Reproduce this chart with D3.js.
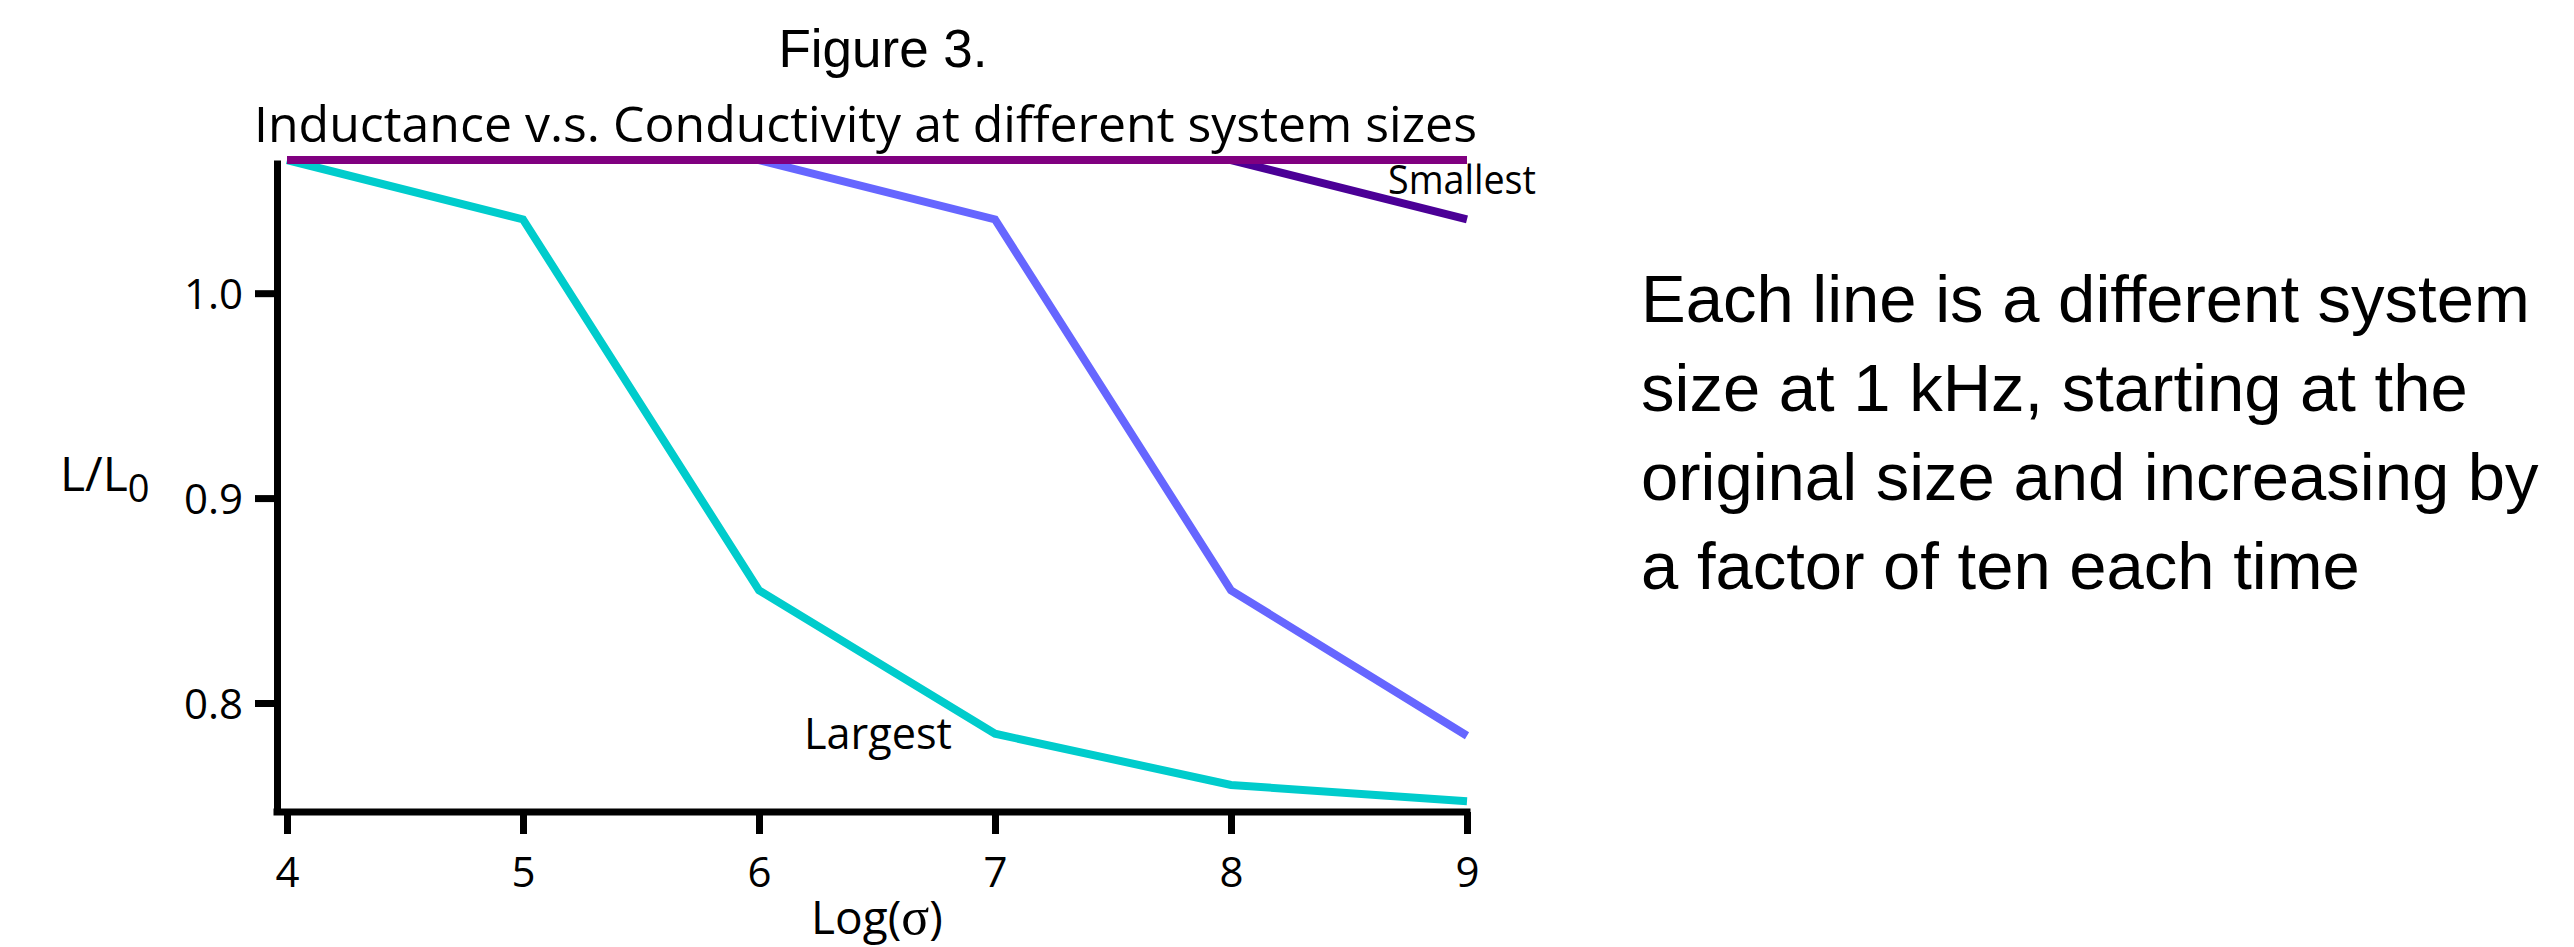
<!DOCTYPE html>
<html>
<head>
<meta charset="utf-8">
<script src="https://cdn.jsdelivr.net/npm/d3@7"></script>
<style>
  body { margin: 0; background: #ffffff; }
  svg { display: block; }
</style>
</head>
<body>
<svg id="chart" width="2574" height="947"></svg>
<script>
// Log of conductivity on the x axis
const logSigma = [4, 5, 6, 7, 8, 9];

// L/L0 for each system size (original size, then x10, x100, x1000)
const ratioX1    = [1.065, 1.065, 1.065, 1.065, 1.065, 1.065];
const ratioX10   = [1.065, 1.065, 1.065, 1.065, 1.065, 1.036];
const ratioX100  = [1.065, 1.065, 1.065, 1.036, 0.855, 0.784];
const ratioX1000 = [1.065, 1.036, 0.855, 0.785, 0.760, 0.752];

const seriesNames  = ["x1000", "x100", "x10", "x1"];
const seriesValues = [ratioX1000, ratioX100, ratioX10, ratioX1];
const seriesColors = ["#00cccc", "#6666ff", "#4b0096", "#800080"];

const xTicks = [4, 5, 6, 7, 8, 9];
const yTicks = [0.8, 0.9, 1.0];

const figureLabel = "Figure 3.";
const titleText = "Inductance v.s. Conductivity at different system sizes";
const noteLines = [
  "Each line is a different system",
  "size at 1 kHz, starting at the",
  "original size and increasing by",
  "a factor of ten each time"
];

const lucidaLike = "'Open Sans', 'DejaVu Sans', sans-serif";
const arialLike = "'Liberation Sans', Arial, sans-serif";

const svg = d3.select("#chart");

const axisX = 277;      // position of the vertical axis
const axisY = 812;      // position of the horizontal axis

const x = d3.scaleLinear().domain([4, 9]).range([287, 1467]);
const y = d3.scaleLinear().domain([0.7468, 1.065]).range([axisY, 160]);

// ---- axes ----
const yAxis = svg.append("g")
  .attr("transform", `translate(${axisX},0)`)
  .call(d3.axisLeft(y)
    .tickValues(yTicks)
    .tickSize(22)
    .tickSizeOuter(0)
    .tickPadding(12)
    .tickFormat(d3.format(".1f")));
yAxis.select(".domain").attr("stroke", "#000").attr("stroke-width", 7);
yAxis.selectAll(".tick line").attr("stroke", "#000").attr("stroke-width", 7);
yAxis.selectAll(".tick text")
  .attr("fill", "#000")
  .attr("dy", "0.36em")
  .style("font-family", lucidaLike)
  .style("font-size", "42px");

const xAxis = svg.append("g")
  .attr("transform", `translate(0,${axisY})`)
  .call(d3.axisBottom(x)
    .tickValues(xTicks)
    .tickSize(22)
    .tickSizeOuter(0)
    .tickPadding(23)
    .tickFormat(d3.format("d")));
xAxis.select(".domain").remove();
xAxis.append("line")
  .attr("x1", axisX - 3.5)
  .attr("x2", x(9) + 3.5)
  .attr("y1", 0).attr("y2", 0)
  .attr("stroke", "#000")
  .attr("stroke-width", 7);
xAxis.selectAll(".tick line").attr("stroke", "#000").attr("stroke-width", 7);
xAxis.selectAll(".tick text")
  .attr("fill", "#000")
  .style("font-family", lucidaLike)
  .style("font-size", "42px");

// ---- series lines ----
const line = d3.line()
  .x((d, i) => x(logSigma[i]))
  .y(d => y(d));

svg.append("g")
  .selectAll("path")
  .data(seriesValues)
  .join("path")
  .attr("class", (d, i) => "series " + seriesNames[i])
  .attr("d", line)
  .attr("fill", "none")
  .attr("stroke", (d, i) => seriesColors[i])
  .attr("stroke-width", 8)
  .attr("stroke-linejoin", "miter");

// ---- line annotations ----
svg.append("text")
  .attr("x", x(9) + 69)
  .attr("y", y(ratioX10[5]) - 25)
  .attr("text-anchor", "end")
  .attr("textLength", 148)
  .attr("lengthAdjust", "spacingAndGlyphs")
  .style("font-family", lucidaLike)
  .style("font-size", "40px")
  .attr("fill", "#000")
  .text("Smallest");

svg.append("text")
  .attr("x", x(7) - 191)
  .attr("y", y(ratioX1000[3]) + 15)
  .attr("textLength", 148)
  .attr("lengthAdjust", "spacingAndGlyphs")
  .style("font-family", lucidaLike)
  .style("font-size", "44px")
  .attr("fill", "#000")
  .text("Largest");

// ---- axis titles ----
const yTitle = svg.append("text")
  .attr("x", 60)
  .attr("y", 491)
  .style("font-family", lucidaLike)
  .style("font-size", "48px")
  .attr("fill", "#000");
yTitle.append("tspan").text("L/L");
yTitle.append("tspan").attr("dy", 11).style("font-size", "38px").text("0");

const xTitle = svg.append("text")
  .attr("x", (x(4) + x(9)) / 2)
  .attr("y", 934)
  .attr("text-anchor", "middle")
  .style("font-family", lucidaLike)
  .style("font-size", "46px")
  .attr("fill", "#000");
xTitle.append("tspan").text("Log(");
xTitle.append("tspan").style("font-family", "'Liberation Serif', 'DejaVu Serif', serif").style("font-size", "52px").text("σ");
xTitle.append("tspan").text(")");

// ---- headings ----
svg.append("text")
  .attr("x", 883)
  .attr("y", 67)
  .attr("text-anchor", "middle")
  .style("font-family", arialLike)
  .style("font-size", "53px")
  .attr("fill", "#000")
  .text(figureLabel);

// chart title spans from just left of the axis to the end of the plot
svg.append("text")
  .attr("x", 254)
  .attr("y", 142)
  .attr("textLength", 1223)
  .attr("lengthAdjust", "spacingAndGlyphs")
  .style("font-family", lucidaLike)
  .style("font-size", "49px")
  .attr("fill", "#000")
  .text(titleText);

// ---- side note ----
svg.append("text")
  .attr("x", 1641)
  .attr("y", 322)
  .style("font-family", arialLike)
  .style("font-size", "67px")
  .attr("fill", "#000")
  .selectAll("tspan")
  .data(noteLines)
  .join("tspan")
  .attr("x", 1641)
  .attr("dy", (d, i) => i === 0 ? 0 : 89)
  .text(d => d);
</script>
</body>
</html>
